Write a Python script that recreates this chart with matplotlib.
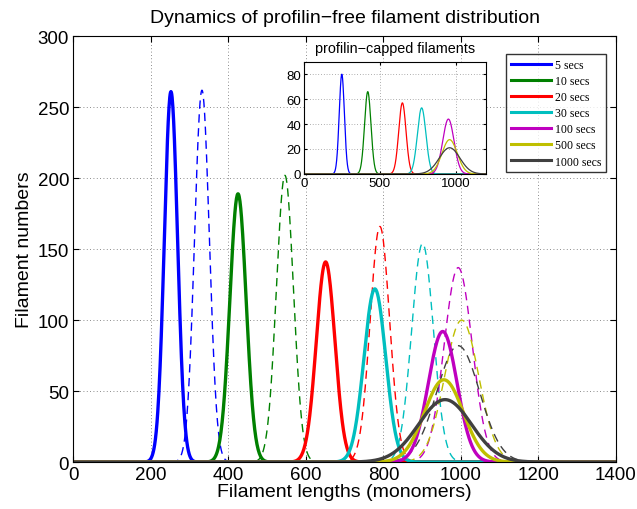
import numpy as np
import matplotlib
matplotlib.use("Agg")
import matplotlib.pyplot as plt
from matplotlib.lines import Line2D

plt.rcParams["font.family"] = ["Liberation Sans", "DejaVu Sans"]

# ---- data ----
labels = ["5 secs", "10 secs", "20 secs", "30 secs", "100 secs", "500 secs", "1000 secs"]
colors = ["#0000ff", "#008000", "#ff0000", "#00bfbf", "#bf00bf", "#bfbf00", "#404040"]

# profilin-free, solid curves: peak position, peak height, spread
free_pos = [252, 425, 651, 778, 953, 956, 959]
free_height = [261, 189, 141, 122, 92, 58, 44]
free_sigma = [17, 21, 24, 28, 37, 50, 68]

# profilin-free, dashed curves
dash_pos = [332, 546, 791, 901, 993, 1002, 993]
dash_height = [262, 202, 166, 154, 137, 100, 82]
dash_sigma = [19, 22, 25, 28, 36, 44, 55]

# profilin-capped (inset)
cap_pos = [250, 421, 649, 776, 952, 960, 960]
cap_height = [80, 66, 57, 53, 44, 27.5, 21]
cap_sigma = [17, 21, 24, 28, 37, 50, 68]


def peak(x, mu, h, s):
    return h * np.exp(-0.5 * ((x - mu) / s) ** 2)


fig = plt.figure(figsize=(6.37, 5.10), dpi=100)
ax = fig.add_axes([0.115, 0.092, 0.852, 0.835])
x = np.linspace(0, 1400, 1401)

for i in range(len(labels)):
    ax.plot(x, peak(x, dash_pos[i], dash_height[i], dash_sigma[i]),
            color=colors[i], lw=1.0, ls=(0, (6, 4)))
for i in range(len(labels)):
    ax.plot(x, peak(x, free_pos[i], free_height[i], free_sigma[i]),
            color=colors[i], lw=2.4)

ax.set_xlim(0, 1400)
ax.set_ylim(0, 300)
ax.set_xticks(range(0, 1401, 200))
ax.set_yticks(range(0, 301, 50))
ax.tick_params(direction="in", top=True, right=True, labelsize=13.5, length=4, pad=3)
ax.grid(True, ls=(0, (1, 3)), color="#666666", lw=0.6)
ax.set_xlabel("Filament lengths (monomers)", fontsize=14, labelpad=0)
ax.set_ylabel("Filament numbers", fontsize=14, labelpad=3)
ax.set_title("Dynamics of profilin\u2212free filament distribution", fontsize=14, pad=10)

# inset
ins = fig.add_axes([0.477, 0.657, 0.286, 0.220])
xi = np.linspace(0, 1200, 1201)
for i in range(len(labels)):
    ins.plot(xi, peak(xi, cap_pos[i], cap_height[i], cap_sigma[i]), color=colors[i], lw=0.9)
ins.set_xlim(0, 1200)
ins.set_ylim(0, 90)
ins.set_xticks([0, 500, 1000])
ins.set_yticks([0, 20, 40, 60, 80])
ins.tick_params(direction="in", top=True, right=True, labelsize=9.5, length=2, pad=2)
ins.grid(True, ls=(0, (1, 3)), color="#666666", lw=0.5)
ins.set_title("profilin\u2212capped filaments", fontsize=10.4, pad=7)

handles = [Line2D([], [], color=c, lw=2.2) for c in colors]
leg = fig.legend(handles, labels, loc="upper left", bbox_to_anchor=(0.794, 0.892),
                 prop={"family": "Liberation Serif", "size": 8.5}, frameon=True,
                 fancybox=False, edgecolor="black", handlelength=3.4,
                 borderaxespad=0, labelspacing=0.35, handletextpad=0.4, borderpad=0.4)
leg.get_frame().set_linewidth(1.0)

fig.savefig("out.png", dpi=100)
